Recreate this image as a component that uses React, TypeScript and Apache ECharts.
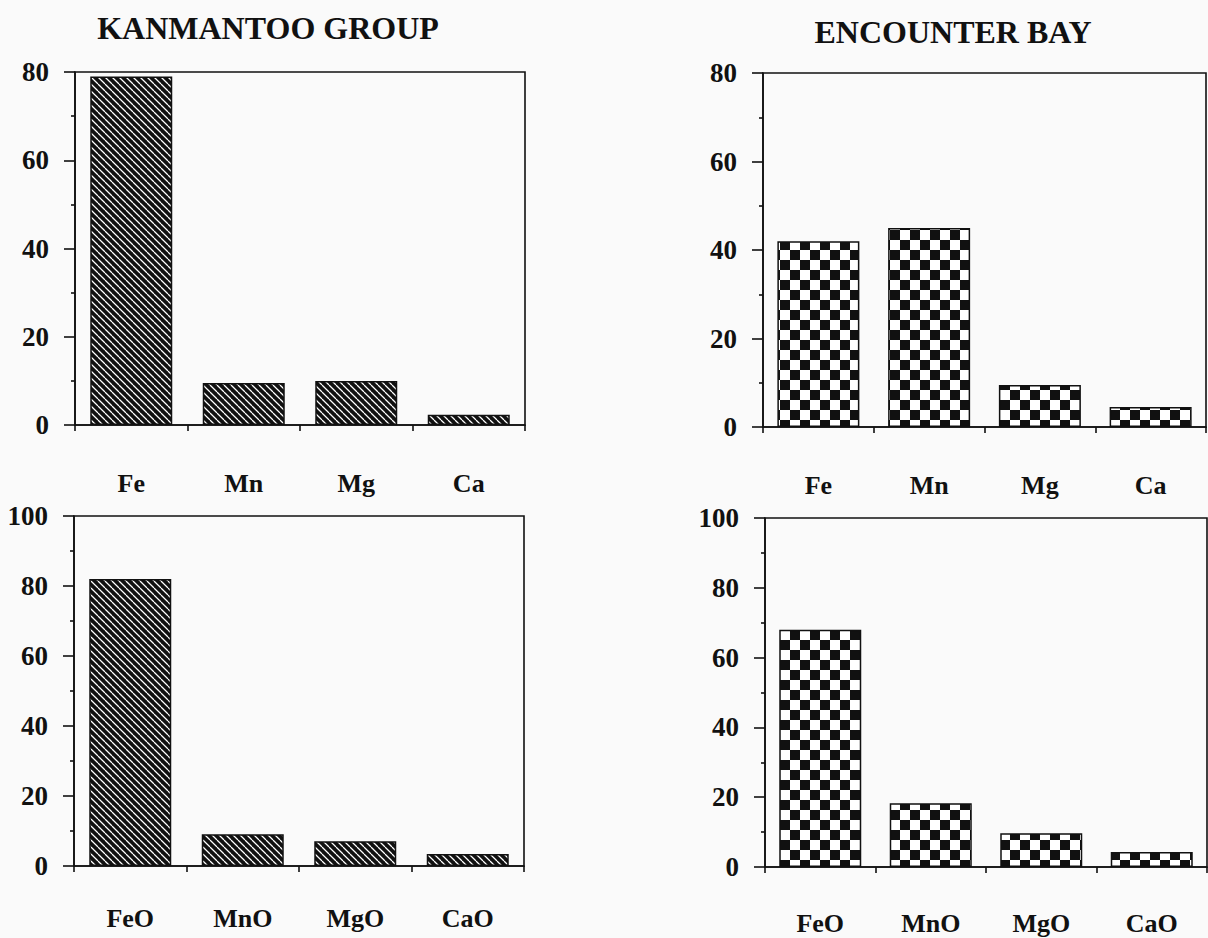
import React, { useEffect, useRef } from "react";
import * as echarts from "echarts";

// Element proportions (%) — Kanmantoo Group vs Encounter Bay
const elementCats = ["Fe", "Mn", "Mg", "Ca"];
const oxideCats = ["FeO", "MnO", "MgO", "CaO"];

const kanmantooElements = [79, 9.5, 10, 2.3];
const encounterElements = [42, 45, 9.5, 4.5];
const kanmantooOxides = [82, 9.1, 7.1, 3.4];
const encounterOxides = [68, 18.3, 9.7, 4.3];

const titles = ["KANMANTOO GROUP", "ENCOUNTER BAY"];

const FONT = "'Liberation Serif', 'Times New Roman', Times, serif";

function hatchTile(): HTMLCanvasElement {
  const c = document.createElement("canvas");
  c.width = 7;
  c.height = 7;
  const ctx = c.getContext("2d")!;
  ctx.fillStyle = "#111";
  ctx.fillRect(0, 0, 7, 7);
  ctx.strokeStyle = "#fff";
  ctx.lineWidth = 1.25;
  ctx.beginPath();
  for (const k of [-7, 0, 7]) {
    ctx.moveTo(k, 0);
    ctx.lineTo(k + 7, 7);
  }
  ctx.stroke();
  return c;
}

function checkerTile(): HTMLCanvasElement {
  const c = document.createElement("canvas");
  c.width = 20;
  c.height = 20;
  const ctx = c.getContext("2d")!;
  ctx.fillStyle = "#fff";
  ctx.fillRect(0, 0, 20, 20);
  ctx.fillStyle = "#111";
  ctx.fillRect(0, 0, 10, 10);
  ctx.fillRect(10, 10, 10, 10);
  return c;
}

export default function App() {
  const ref = useRef<HTMLDivElement>(null);

  useEffect(() => {
    if (!ref.current) return;
    const chart = echarts.init(ref.current, null, { renderer: "svg" });

    const hatch = { image: hatchTile(), repeat: "repeat" as const };
    const checker = { image: checkerTile(), repeat: "repeat" as const };

    const grids = [
      { left: 75, top: 72, width: 450, height: 353 },
      { left: 763, top: 73, width: 443, height: 354 },
      { left: 74, top: 516, width: 450, height: 350 },
      { left: 765, top: 518, width: 442, height: 349 },
    ];

    const panels = [
      { cats: elementCats, data: kanmantooElements, max: 80, fill: hatch, labelMargin: 45 },
      { cats: elementCats, data: encounterElements, max: 80, fill: checker, labelMargin: 45 },
      { cats: oxideCats, data: kanmantooOxides, max: 100, fill: hatch, labelMargin: 39 },
      { cats: oxideCats, data: encounterOxides, max: 100, fill: checker, labelMargin: 43 },
    ];

    const lineStyle = { color: "#111", width: 1.6 };

    chart.setOption({
      animation: false,
      backgroundColor: "#fafafa",
      grid: grids.map((g) => ({
        ...g,
        show: true,
        borderColor: "#111",
        borderWidth: 1.6,
        backgroundColor: "transparent",
        containLabel: false,
      })),
      xAxis: panels.map((p, i) => ({
        type: "category",
        gridIndex: i,
        data: p.cats,
        axisLine: { show: true, lineStyle },
        axisTick: { show: true, length: 6, lineStyle },
        axisLabel: {
          interval: 0,
          margin: p.labelMargin,
          fontFamily: FONT,
          fontWeight: "bold",
          fontSize: 26,
          color: "#111",
        },
        splitLine: { show: false },
      })),
      yAxis: panels.map((p, i) => ({
        type: "value",
        gridIndex: i,
        min: 0,
        max: p.max,
        interval: 20,
        axisLine: { show: true, lineStyle },
        axisTick: { show: true, length: 11, lineStyle },
        minorTick: { show: true, splitNumber: 2, length: 4, lineStyle },
        axisLabel: {
          margin: 26,
          fontFamily: FONT,
          fontWeight: "bold",
          fontSize: 27,
          color: "#111",
        },
        splitLine: { show: false },
      })),
      series: panels.map((p, i) => ({
        type: "bar",
        xAxisIndex: i,
        yAxisIndex: i,
        data: p.data,
        barWidth: 82,
        itemStyle: {
          color: p.fill,
          borderColor: "#111",
          borderWidth: 1.5,
        },
      })),
      graphic: [
        {
          type: "text",
          x: 268,
          y: 28,
          style: {
            text: titles[0],
            font: `bold 32px ${FONT}`,
            fill: "#111",
            textAlign: "center",
            textVerticalAlign: "middle",
          },
        },
        {
          type: "text",
          x: 953,
          y: 32,
          style: {
            text: titles[1],
            font: `bold 32px ${FONT}`,
            fill: "#111",
            textAlign: "center",
            textVerticalAlign: "middle",
          },
        },
      ],
    });

    return () => chart.dispose();
  }, []);

  return (
    <div
      ref={ref}
      style={{ position: "absolute", left: 0, top: 0, width: 1208, height: 938 }}
    />
  );
}
